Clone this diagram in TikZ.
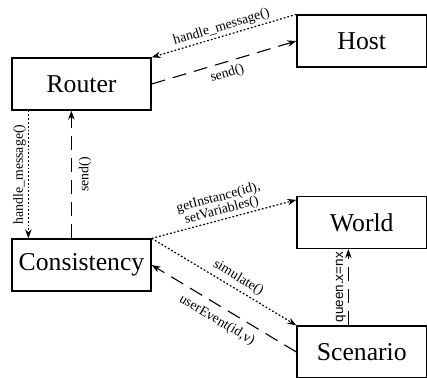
\documentclass[tikz,border=0pt]{standalone}
\usepackage{fontspec}
\setmainfont{Liberation Serif}
\newfontfamily\labelsans{Liberation Sans}
\usetikzlibrary{arrows.meta}
\begin{document}
\begin{tikzpicture}[x=1pt,y=-1pt,
  box/.style={draw,line width=1.3pt,inner sep=0pt,
    minimum width=139pt,minimum height=52pt,
    font=\fontsize{25.7}{30}\selectfont},
  wide/.style={minimum width=129.5pt},
  msg/.style={font=\fontsize{13.8}{13}\selectfont,inner sep=2pt},
  tip/.style={-{Stealth[length=9pt,width=6.5pt]}},
  call/.style={tip,line width=1.2pt,dash pattern=on 1.8pt off 2pt},
  reply/.style={tip,line width=1.1pt,dash pattern=on 14pt off 8pt},
]
\useasboundingbox (0,0) rectangle (427,377);

% components
\node[box] (router) at (81.5,84) {Router};
\node[box] (consistency) at (81.5,265) {Consistency};
\node[box,wide] (host) at (361.75,41) {Host};
\node[box,wide] (world) at (361.75,222.5) {World};
\node[box,wide] (scenario) at (361.75,352) {Scenario};

% Router <-> Host
\draw[call] (host.north west) -- node[msg,sloped,above] {handle\_message()} (router.north east);
\draw[reply] (router.east) -- node[msg,sloped,below=3pt] {send()} (host.west);

% Router <-> Consistency
\draw[call] ([xshift=17pt]router.south west) -- node[msg,rotate=90,anchor=south] {handle\_message()} ([xshift=17pt]consistency.north west);
\draw[reply] ([xshift=60pt]consistency.north west) -- node[msg,rotate=90,anchor=north,yshift=-5pt] {send()} ([xshift=60pt]router.south west);

% Consistency -> World / Scenario
\draw[call] (consistency.north east) -- node[msg,sloped,above,align=center] {getInstance(id),\\setVariables()} ([yshift=-4pt]world.north west);
\draw[call] (consistency.north east) -- node[msg,sloped,above=2pt,pos=0.56] {simulate()} (scenario.north west);
\draw[reply] (scenario.west) -- node[msg,sloped,below=5pt] {userEvent(id,v)} (consistency.east);

% Scenario -> World
\draw[reply] ([xshift=52pt]scenario.north west) -- node[msg,rotate=90,anchor=south,font=\labelsans\fontsize{13.5}{13}\selectfont] {queen.x=nx} ([xshift=52pt]world.south west);
\end{tikzpicture}
\end{document}
